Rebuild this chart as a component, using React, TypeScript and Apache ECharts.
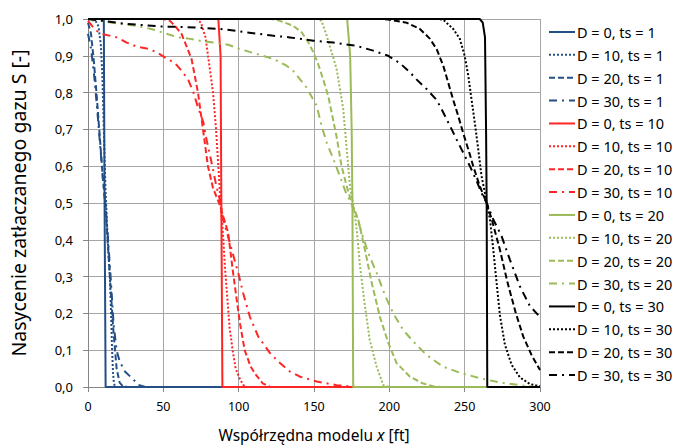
import React, { useEffect, useRef } from "react";
import * as echarts from "echarts";

// ---------- data (x [ft], S [-]) ----------
const xTicks = [0, 50, 100, 150, 200, 250, 300];
const yTicks = [0, 0.1, 0.2, 0.3, 0.4, 0.5, 0.6, 0.7, 0.8, 0.9, 1.0];

const seriesNames = [
  "D = 0, ts = 1", "D = 10, ts = 1", "D = 20, ts = 1", "D = 30, ts = 1",
  "D = 0, ts = 10", "D = 10, ts = 10", "D = 20, ts = 10", "D = 30, ts = 10",
  "D = 0, ts = 20", "D = 10, ts = 20", "D = 20, ts = 20", "D = 30, ts = 20",
  "D = 0, ts = 30", "D = 10, ts = 30", "D = 20, ts = 30", "D = 30, ts = 30",
];

// ts = 1
const d0ts1 = [[0, 1], [10.5, 1], [11, 0.5], [11.7, 0], [300, 0]];
const d10ts1 = [[0, 1], [5, 0.995], [7, 0.98], [8.5, 0.93], [9.5, 0.85], [10.5, 0.7], [11.5, 0.55], [12.5, 0.45], [13.5, 0.37], [14.6, 0.29], [15.3, 0.2], [16, 0.1], [16.6, 0.04], [17.2, 0.01], [18, 0], [300, 0]];
const d20ts1 = [[0, 0.99], [2, 0.96], [4, 0.88], [6, 0.78], [8, 0.67], [10, 0.56], [11.5, 0.5], [13, 0.4], [15, 0.27], [16.8, 0.155], [19, 0.05], [21, 0.012], [23, 0.003], [26, 0], [300, 0]];
const d30ts1 = [[0, 0.96], [2, 0.92], [4, 0.85], [6, 0.76], [8, 0.66], [10, 0.56], [11.5, 0.5], [13, 0.42], [15, 0.3], [17, 0.17], [19, 0.1], [21, 0.07], [24.5, 0.042], [30, 0.021], [33.4, 0.006], [38, 0], [300, 0]];

// ts = 10
const d0ts10 = [[0, 1], [86.5, 1], [88, 0.9], [88.5, 0.5], [89.2, 0], [300, 0]];
const d10ts10 = [[0, 1], [72, 1], [75, 0.99], [78, 0.95], [80, 0.89], [83, 0.8], [85, 0.7], [86.5, 0.6], [88, 0.5], [89.5, 0.42], [91, 0.32], [92.5, 0.24], [94, 0.16], [96, 0.1], [98, 0.05], [101, 0.02], [104, 0], [300, 0]];
const d20ts10 = [[0, 1], [50, 1], [54.4, 0.995], [58, 0.98], [62, 0.96], [66, 0.92], [68.8, 0.89], [73, 0.8], [76, 0.71], [79.6, 0.6], [83, 0.54], [87, 0.5], [90, 0.46], [93, 0.42], [96, 0.32], [98.6, 0.24], [101, 0.17], [104, 0.1], [108, 0.055], [112, 0.03], [116, 0.01], [121, 0], [300, 0]];
const d30ts10 = [[0, 0.995], [2, 0.985], [5, 0.97], [8, 0.962], [11, 0.958], [19, 0.95], [25.7, 0.936], [32.3, 0.925], [39, 0.92], [45.6, 0.91], [52, 0.893], [57.7, 0.88], [62, 0.86], [66.6, 0.834], [70, 0.8], [73, 0.76], [76.5, 0.72], [78.8, 0.67], [82, 0.61], [85, 0.55], [88, 0.5], [89.8, 0.455], [94.2, 0.39], [99.7, 0.31], [103, 0.255], [107.5, 0.19], [113, 0.137], [120.8, 0.092], [126.3, 0.069], [134, 0.042], [140.7, 0.028], [151.8, 0.015], [165, 0.005], [178, 0], [300, 0]];

// ts = 20
const d0ts20 = [[0, 1], [172, 1], [174, 0.9], [175, 0.7], [175.5, 0.5], [176, 0], [300, 0]];
const d10ts20 = [[0, 1], [152, 1], [155, 0.995], [158.4, 0.955], [161.7, 0.91], [165, 0.864], [167.2, 0.81], [169.4, 0.755], [171, 0.68], [172.7, 0.6], [174, 0.54], [176, 0.5], [178.3, 0.43], [180.5, 0.33], [183.8, 0.22], [187, 0.128], [191.6, 0.055], [196, 0.005], [200, 0], [300, 0]];
const d20ts20 = [[0, 1], [122, 1], [127.4, 0.995], [136, 0.982], [141.8, 0.964], [146.2, 0.937], [149.5, 0.91], [152.8, 0.877], [156.1, 0.836], [159.5, 0.79], [162, 0.74], [165, 0.68], [168.3, 0.6], [171.7, 0.546], [175, 0.5], [179.4, 0.455], [183.8, 0.373], [188.3, 0.283], [193.8, 0.19], [199.3, 0.12], [204.8, 0.065], [213.7, 0.028], [222, 0.01], [229, 0.002], [235, 0], [300, 0]];
const d30ts20 = [[0, 1], [8, 0.995], [15.7, 0.99], [31, 0.982], [42, 0.973], [52, 0.96], [60, 0.95], [67.7, 0.946], [75.4, 0.94], [83, 0.936], [93, 0.93], [101, 0.918], [112, 0.905], [124, 0.89], [131.8, 0.873], [136, 0.86], [140.7, 0.836], [145, 0.814], [151.8, 0.764], [155, 0.71], [158.4, 0.664], [162.8, 0.62], [167, 0.575], [171, 0.53], [175, 0.495], [178.3, 0.464], [181.6, 0.42], [186, 0.364], [191.6, 0.31], [197, 0.25], [202.6, 0.2], [209.2, 0.155], [216, 0.123], [224.7, 0.087], [235.8, 0.055], [246.8, 0.039], [260, 0.024], [273.4, 0.012], [286.7, 0.005], [295, 0.001], [300, 0]];

// ts = 30
const d0ts30 = [[0, 1], [260, 1], [262, 0.99], [263.5, 0.95], [264.2, 0.7], [264.6, 0.5], [265, 0], [300, 0]];
const d10ts30 = [[0, 1], [232, 1], [235.8, 0.998], [242.4, 0.973], [246.8, 0.946], [250, 0.9], [252.4, 0.846], [254.6, 0.78], [257, 0.71], [259, 0.646], [261.2, 0.573], [263.4, 0.528], [264.6, 0.5], [266.8, 0.455], [269, 0.373], [271.2, 0.283], [273.4, 0.195], [276.7, 0.115], [281.2, 0.06], [286.7, 0.026], [293.3, 0.008], [300, 0.002]];
const d20ts30 = [[0, 1], [195, 1], [200.4, 0.998], [211.5, 0.99], [220.3, 0.973], [227, 0.946], [231.4, 0.918], [235.8, 0.873], [239, 0.828], [242.4, 0.78], [245.7, 0.737], [249, 0.69], [252.4, 0.646], [255.7, 0.6], [260, 0.546], [264.6, 0.5], [268, 0.455], [273.4, 0.373], [278.5, 0.283], [284, 0.2], [288.9, 0.137], [294.4, 0.087], [300, 0.046]];
const d30ts30 = [[0, 1], [10, 0.995], [25, 0.987], [47, 0.98], [71, 0.977], [90, 0.972], [105, 0.964], [122, 0.955], [134, 0.95], [149.5, 0.941], [162.8, 0.936], [178.3, 0.927], [189.3, 0.914], [199.3, 0.9], [207, 0.88], [213.7, 0.855], [218, 0.836], [224.7, 0.81], [231.4, 0.78], [235.8, 0.746], [240.2, 0.71], [244.6, 0.673], [249, 0.637], [253.5, 0.6], [257.9, 0.56], [262, 0.52], [264.6, 0.5], [269, 0.455], [274.5, 0.41], [280, 0.346], [286.7, 0.273], [293.3, 0.22], [300, 0.19]];

const seriesData = [
  d0ts1, d10ts1, d20ts1, d30ts1,
  d0ts10, d10ts10, d20ts10, d30ts10,
  d0ts20, d10ts20, d20ts20, d30ts20,
  d0ts30, d10ts30, d20ts30, d30ts30,
];

const colors = ["#234F86", "#FF2525", "#9BBB59", "#000000"];
const dashes: any[] = ["solid", [2, 2], [6, 3], [8, 5, 2, 5]];

export default function App() {
  const ref = useRef<HTMLDivElement>(null);
  useEffect(() => {
    document.body.style.margin = "0";
    const chart = echarts.init(ref.current!, null, { renderer: "svg" });
    const font = "Noto Sans";
    const series = seriesData.map((d, i) => ({
      name: seriesNames[i],
      type: "line",
      data: d,
      showSymbol: false,
      symbol: "none",
      lineStyle: {
        color: colors[Math.floor(i / 4)],
        width: 2,
        type: dashes[i % 4],
      },
      itemStyle: { color: colors[Math.floor(i / 4)] },
    }));

    // legend drawn as graphic (line sample + text)
    const legendTop = 32;
    const legendStep = 22.87;
    const legendItems: any[] = [];
    seriesNames.forEach((name, i) => {
      const y = legendTop + i * legendStep;
      const dash = dashes[i % 4];
      legendItems.push({
        type: "line",
        shape: { x1: 549, y1: y, x2: 575, y2: y },
        style: {
          stroke: colors[Math.floor(i / 4)],
          lineWidth: 2,
          lineDash: dash === "solid" ? null : dash,
        },
        silent: true,
      });
      legendItems.push({
        type: "text",
        x: 577,
        y: y,
        style: {
          text: name,
          fill: "#000",
          font: `14.5px "${font}"`,
          textVerticalAlign: "middle",
          verticalAlign: "middle",
        },
        silent: true,
      });
    });

    chart.setOption({
      animation: false,
      backgroundColor: "#ffffff",
      grid: { left: 88, top: 19, right: 135, bottom: 61, containLabel: false },
      graphic: legendItems,
      xAxis: {
        type: "value",
        min: 0,
        max: 300,
        interval: 50,
        name: "Współrzędna modelu {i|x} [ft]",
        nameLocation: "middle",
        nameGap: 40,
        nameTextStyle: {
          fontFamily: font,
          fontSize: 15.5,
          color: "#000",
          rich: { i: { fontFamily: font, fontSize: 15.5, fontStyle: "italic", color: "#000" } },
        },
        axisLine: { show: true, lineStyle: { color: "#868686", width: 1 } },
        axisTick: { show: true, length: 5, lineStyle: { color: "#868686" } },
        axisLabel: { fontFamily: font, fontSize: 12.5, color: "#000", margin: 13 },
        splitLine: { show: true, lineStyle: { color: "#A6A6A6", width: 1 } },
      },
      yAxis: {
        type: "value",
        min: 0,
        max: 1,
        interval: 0.1,
        name: "Nasycenie zatłaczanego gazu S [-]",
        nameLocation: "middle",
        nameGap: 60,
        nameTextStyle: { fontFamily: font, fontSize: 19.5, color: "#000" },
        axisLine: { show: true, lineStyle: { color: "#868686", width: 1 } },
        axisTick: { show: true, length: 5, lineStyle: { color: "#868686" } },
        axisLabel: {
          fontFamily: font,
          fontSize: 13,
          color: "#000",
          margin: 15,
          formatter: (v: number) => v.toFixed(1).replace(".", ","),
        },
        splitLine: { show: true, lineStyle: { color: "#A6A6A6", width: 1 } },
      },
      series,
    });
    return () => chart.dispose();
  }, []);
  return <div ref={ref} style={{ position: "fixed", left: 0, top: 0, width: 675, height: 448 }} />;
}
